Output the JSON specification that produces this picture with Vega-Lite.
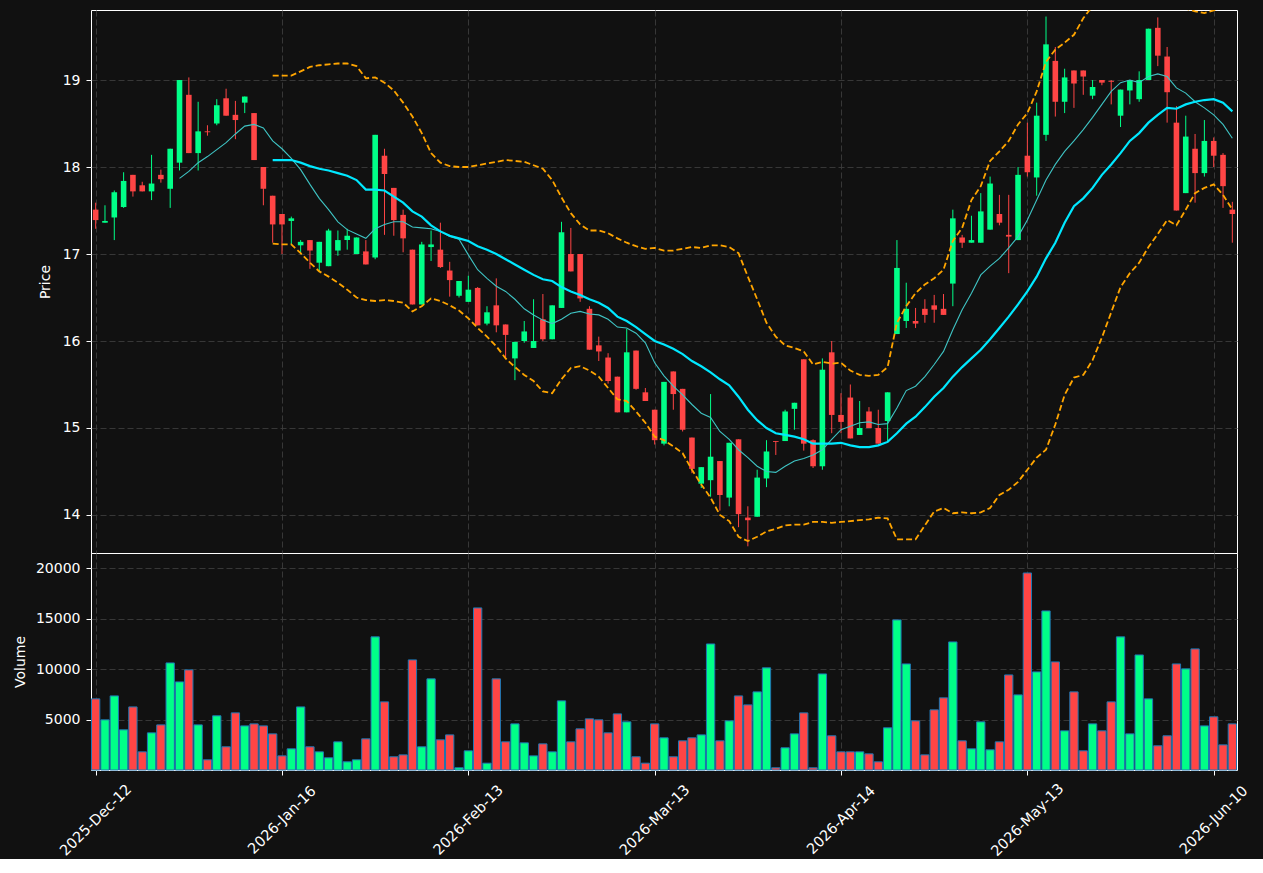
{
  "$schema": "https://vega.github.io/schema/vega-lite/v6.json",
  "background": "#111111",
  "padding": {"left": 12, "top": 9, "right": 26, "bottom": 0},
  "bounds": "flush",
  "config": {
    "font": "DejaVu Sans",
    "view": {"stroke": "#ffffff", "strokeWidth": 1},
    "axis": {
      "labelColor": "#ffffff", "titleColor": "#ffffff",
      "labelFont": "DejaVu Sans", "titleFont": "DejaVu Sans",
      "labelFontSize": 14, "titleFontSize": 14, "titleFontWeight": "normal",
      "tickColor": "#ffffff", "tickSize": 5, "tickWidth": 1, "labelPadding": 6,
      "domain": false, "grid": true,
      "gridColor": "#3c3c3c", "gridDash": [6, 3], "gridWidth": 0.9
    }
  },
  "data": {"values": [
    {"i":0,"o":17.51,"h":17.59,"l":17.29,"c":17.39,"v":7050},
    {"i":1,"o":17.36,"h":17.56,"l":17.36,"c":17.38,"v":4970},
    {"i":2,"o":17.42,"h":17.73,"l":17.16,"c":17.71,"v":7340},
    {"i":3,"o":17.54,"h":17.94,"l":17.53,"c":17.84,"v":3980},
    {"i":4,"o":17.91,"h":17.91,"l":17.66,"c":17.72,"v":6250},
    {"i":5,"o":17.79,"h":17.83,"l":17.72,"c":17.72,"v":1800},
    {"i":6,"o":17.72,"h":18.14,"l":17.62,"c":17.81,"v":3680},
    {"i":7,"o":17.91,"h":17.97,"l":17.82,"c":17.86,"v":4470},
    {"i":8,"o":17.75,"h":18.21,"l":17.53,"c":18.21,"v":10610},
    {"i":9,"o":18.05,"h":19.00,"l":17.96,"c":19.00,"v":8730,"m10":17.87},
    {"i":10,"o":18.83,"h":19.03,"l":18.16,"c":18.16,"v":9920,"m10":17.95},
    {"i":11,"o":18.16,"h":18.75,"l":17.96,"c":18.41,"v":4470,"m10":18.05},
    {"i":12,"o":18.41,"h":18.48,"l":18.36,"c":18.40,"v":1010,"m10":18.12},
    {"i":13,"o":18.50,"h":18.78,"l":18.48,"c":18.71,"v":5370,"m10":18.20},
    {"i":14,"o":18.79,"h":18.90,"l":18.59,"c":18.59,"v":2300,"m10":18.28},
    {"i":15,"o":18.60,"h":18.76,"l":18.32,"c":18.54,"v":5660,"m10":18.38},
    {"i":16,"o":18.74,"h":18.81,"l":18.62,"c":18.81,"v":4370,"m10":18.47},
    {"i":17,"o":18.62,"h":18.62,"l":18.08,"c":18.08,"v":4570,"m10":18.49},
    {"i":18,"o":18.00,"h":18.00,"l":17.56,"c":17.75,"v":4370,"m10":18.45},
    {"i":19,"o":17.67,"h":17.67,"l":17.13,"c":17.34,"v":3580,"m10":18.30,"m20":18.08,"bu":19.05,"bl":17.12},
    {"i":20,"o":17.46,"h":17.46,"l":17.00,"c":17.34,"v":1400,"m10":18.21,"m20":18.08,"bu":19.05,"bl":17.11},
    {"i":21,"o":17.38,"h":17.43,"l":17.11,"c":17.41,"v":2100,"m10":18.10,"m20":18.08,"bu":19.05,"bl":17.11},
    {"i":22,"o":17.10,"h":17.16,"l":17.00,"c":17.14,"v":6250,"m10":17.97,"m20":18.05,"bu":19.10,"bl":17.01},
    {"i":23,"o":17.16,"h":17.16,"l":16.83,"c":17.04,"v":2300,"m10":17.80,"m20":18.01,"bu":19.15,"bl":16.90},
    {"i":24,"o":16.90,"h":17.14,"l":16.80,"c":17.14,"v":1800,"m10":17.64,"m20":17.98,"bu":19.17,"bl":16.80},
    {"i":25,"o":16.86,"h":17.29,"l":16.86,"c":17.27,"v":1210,"m10":17.51,"m20":17.96,"bu":19.18,"bl":16.74},
    {"i":26,"o":17.04,"h":17.27,"l":16.98,"c":17.16,"v":2790,"m10":17.37,"m20":17.93,"bu":19.19,"bl":16.67},
    {"i":27,"o":17.16,"h":17.29,"l":17.05,"c":17.21,"v":810,"m10":17.28,"m20":17.90,"bu":19.19,"bl":16.59},
    {"i":28,"o":17.00,"h":17.19,"l":17.00,"c":17.19,"v":1010,"m10":17.23,"m20":17.85,"bu":19.16,"bl":16.50},
    {"i":29,"o":17.03,"h":17.16,"l":16.88,"c":16.88,"v":3090,"m10":17.18,"m20":17.74,"bu":19.02,"bl":16.47},
    {"i":30,"o":16.96,"h":18.37,"l":16.94,"c":18.37,"v":13190,"m10":17.29,"m20":17.74,"bu":19.03,"bl":16.46},
    {"i":31,"o":18.13,"h":18.21,"l":17.22,"c":17.92,"v":6750,"m10":17.34,"m20":17.73,"bu":18.97,"bl":16.47},
    {"i":32,"o":17.76,"h":17.76,"l":17.21,"c":17.39,"v":1310,"m10":17.37,"m20":17.66,"bu":18.88,"bl":16.46},
    {"i":33,"o":17.45,"h":17.51,"l":17.02,"c":17.18,"v":1500,"m10":17.37,"m20":17.59,"bu":18.74,"bl":16.44},
    {"i":34,"o":17.05,"h":17.05,"l":16.42,"c":16.42,"v":10910,"m10":17.31,"m20":17.49,"bu":18.58,"bl":16.34},
    {"i":35,"o":16.42,"h":17.14,"l":16.42,"c":17.11,"v":2300,"m10":17.30,"m20":17.43,"bu":18.39,"bl":16.40},
    {"i":36,"o":17.08,"h":17.27,"l":16.92,"c":17.11,"v":9030,"m10":17.29,"m20":17.33,"bu":18.16,"bl":16.49},
    {"i":37,"o":17.05,"h":17.36,"l":16.84,"c":16.85,"v":2990,"m10":17.26,"m20":17.26,"bu":18.05,"bl":16.46},
    {"i":38,"o":16.81,"h":16.91,"l":16.51,"c":16.70,"v":3480,"m10":17.20,"m20":17.21,"bu":18.01,"bl":16.41},
    {"i":39,"o":16.52,"h":16.69,"l":16.50,"c":16.69,"v":220,"m10":17.17,"m20":17.18,"bu":18.00,"bl":16.35},
    {"i":40,"o":16.45,"h":16.75,"l":16.45,"c":16.59,"v":1900,"m10":16.99,"m20":17.15,"bu":18.00,"bl":16.26},
    {"i":41,"o":16.61,"h":16.62,"l":16.18,"c":16.18,"v":16060,"m10":16.82,"m20":17.09,"bu":18.02,"bl":16.15},
    {"i":42,"o":16.20,"h":16.40,"l":16.18,"c":16.33,"v":675,"m10":16.72,"m20":17.05,"bu":18.04,"bl":16.05},
    {"i":43,"o":16.41,"h":16.72,"l":16.10,"c":16.18,"v":9030,"m10":16.63,"m20":17.00,"bu":18.06,"bl":15.94},
    {"i":44,"o":16.19,"h":16.19,"l":15.79,"c":16.07,"v":2790,"m10":16.57,"m20":16.94,"bu":18.08,"bl":15.80},
    {"i":45,"o":15.80,"h":15.99,"l":15.55,"c":15.99,"v":4570,"m10":16.48,"m20":16.88,"bu":18.07,"bl":15.70},
    {"i":46,"o":16.00,"h":16.23,"l":15.98,"c":16.11,"v":2690,"m10":16.37,"m20":16.82,"bu":18.06,"bl":15.61},
    {"i":47,"o":15.92,"h":16.48,"l":15.92,"c":16.00,"v":1400,"m10":16.30,"m20":16.76,"bu":18.02,"bl":15.54},
    {"i":48,"o":16.25,"h":16.54,"l":16.00,"c":16.02,"v":2590,"m10":16.24,"m20":16.71,"bu":17.98,"bl":15.42},
    {"i":49,"o":16.02,"h":16.41,"l":16.02,"c":16.41,"v":1800,"m10":16.20,"m20":16.69,"bu":17.85,"bl":15.40},
    {"i":50,"o":16.38,"h":17.37,"l":16.38,"c":17.25,"v":6850,"m10":16.25,"m20":16.62,"bu":17.65,"bl":15.56},
    {"i":51,"o":17.00,"h":17.30,"l":16.80,"c":16.80,"v":2790,"m10":16.32,"m20":16.57,"bu":17.47,"bl":15.69},
    {"i":52,"o":17.00,"h":17.00,"l":16.45,"c":16.49,"v":4080,"m10":16.34,"m20":16.53,"bu":17.34,"bl":15.71},
    {"i":53,"o":16.37,"h":16.40,"l":15.90,"c":15.90,"v":5070,"m10":16.31,"m20":16.48,"bu":17.27,"bl":15.66},
    {"i":54,"o":15.95,"h":16.05,"l":15.77,"c":15.88,"v":4970,"m10":16.30,"m20":16.44,"bu":17.27,"bl":15.59},
    {"i":55,"o":15.81,"h":15.86,"l":15.51,"c":15.54,"v":3680,"m10":16.25,"m20":16.38,"bu":17.24,"bl":15.46},
    {"i":56,"o":15.59,"h":15.59,"l":15.18,"c":15.18,"v":5560,"m10":16.16,"m20":16.28,"bu":17.18,"bl":15.33},
    {"i":57,"o":15.18,"h":16.14,"l":15.18,"c":15.87,"v":4770,"m10":16.15,"m20":16.23,"bu":17.13,"bl":15.31},
    {"i":58,"o":15.89,"h":15.89,"l":15.44,"c":15.45,"v":1310,"m10":16.09,"m20":16.16,"bu":17.09,"bl":15.19},
    {"i":59,"o":15.41,"h":15.46,"l":15.31,"c":15.31,"v":675,"m10":15.98,"m20":16.08,"bu":17.06,"bl":15.06},
    {"i":60,"o":15.21,"h":15.21,"l":14.81,"c":14.86,"v":4570,"m10":15.75,"m20":16.00,"bu":17.07,"bl":14.90},
    {"i":61,"o":14.82,"h":15.53,"l":14.80,"c":15.53,"v":3190,"m10":15.60,"m20":15.96,"bu":17.04,"bl":14.86},
    {"i":62,"o":15.65,"h":15.65,"l":15.21,"c":15.39,"v":1310,"m10":15.48,"m20":15.91,"bu":17.04,"bl":14.79},
    {"i":63,"o":15.45,"h":15.45,"l":14.96,"c":14.98,"v":2890,"m10":15.38,"m20":15.85,"bu":17.06,"bl":14.71},
    {"i":64,"o":14.89,"h":14.89,"l":14.48,"c":14.53,"v":3190,"m10":15.27,"m20":15.77,"bu":17.08,"bl":14.52},
    {"i":65,"o":14.36,"h":14.55,"l":14.31,"c":14.55,"v":3480,"m10":15.17,"m20":15.71,"bu":17.07,"bl":14.35},
    {"i":66,"o":14.40,"h":15.39,"l":14.21,"c":14.67,"v":12490,"m10":15.12,"m20":15.64,"bu":17.10,"bl":14.20},
    {"i":67,"o":14.62,"h":14.62,"l":14.05,"c":14.23,"v":2890,"m10":14.96,"m20":15.56,"bu":17.10,"bl":14.00},
    {"i":68,"o":14.20,"h":14.83,"l":14.10,"c":14.83,"v":4870,"m10":14.87,"m20":15.49,"bu":17.08,"bl":13.93},
    {"i":69,"o":14.87,"h":14.87,"l":13.86,"c":14.01,"v":7340,"m10":14.75,"m20":15.36,"bu":17.01,"bl":13.75},
    {"i":70,"o":13.97,"h":14.10,"l":13.64,"c":13.94,"v":6450,"m10":14.66,"m20":15.21,"bu":16.74,"bl":13.70},
    {"i":71,"o":13.98,"h":14.52,"l":13.98,"c":14.43,"v":7740,"m10":14.56,"m20":15.09,"bu":16.48,"bl":13.75},
    {"i":72,"o":14.42,"h":14.86,"l":14.32,"c":14.73,"v":10120,"m10":14.50,"m20":15.00,"bu":16.21,"bl":13.81},
    {"i":73,"o":14.85,"h":14.85,"l":14.69,"c":14.84,"v":220,"m10":14.49,"m20":14.94,"bu":16.05,"bl":13.84},
    {"i":74,"o":14.85,"h":15.21,"l":14.85,"c":15.19,"v":2200,"m10":14.56,"m20":14.92,"bu":15.95,"bl":13.88},
    {"i":75,"o":15.22,"h":15.29,"l":14.98,"c":15.29,"v":3580,"m10":14.62,"m20":14.90,"bu":15.92,"bl":13.89},
    {"i":76,"o":15.79,"h":15.79,"l":14.74,"c":14.82,"v":5660,"m10":14.65,"m20":14.87,"bu":15.88,"bl":13.89},
    {"i":77,"o":14.86,"h":14.87,"l":14.54,"c":14.56,"v":220,"m10":14.69,"m20":14.82,"bu":15.73,"bl":13.92},
    {"i":78,"o":14.56,"h":15.80,"l":14.52,"c":15.67,"v":9520,"m10":14.75,"m20":14.82,"bu":15.76,"bl":13.92},
    {"i":79,"o":15.87,"h":16.00,"l":14.94,"c":15.15,"v":3390,"m10":14.87,"m20":14.82,"bu":15.74,"bl":13.91},
    {"i":80,"o":15.15,"h":15.40,"l":14.94,"c":15.07,"v":1800,"m10":14.98,"m20":14.83,"bu":15.75,"bl":13.92},
    {"i":81,"o":15.35,"h":15.50,"l":14.88,"c":14.88,"v":1800,"m10":15.02,"m20":14.80,"bu":15.66,"bl":13.93},
    {"i":82,"o":14.92,"h":15.31,"l":14.92,"c":15.00,"v":1800,"m10":15.06,"m20":14.78,"bu":15.61,"bl":13.94},
    {"i":83,"o":15.19,"h":15.24,"l":15.00,"c":15.00,"v":1600,"m10":15.07,"m20":14.78,"bu":15.60,"bl":13.95},
    {"i":84,"o":15.00,"h":15.21,"l":14.82,"c":14.82,"v":810,"m10":15.04,"m20":14.80,"bu":15.61,"bl":13.97},
    {"i":85,"o":15.08,"h":15.41,"l":14.83,"c":15.41,"v":4180,"m10":15.05,"m20":14.84,"bu":15.70,"bl":13.96},
    {"i":86,"o":16.08,"h":17.16,"l":16.08,"c":16.84,"v":14870,"m10":15.23,"m20":14.94,"bu":16.21,"bl":13.72},
    {"i":87,"o":16.23,"h":16.67,"l":16.15,"c":16.37,"v":10510,"m10":15.43,"m20":15.05,"bu":16.40,"bl":13.72},
    {"i":88,"o":16.23,"h":16.38,"l":16.15,"c":16.20,"v":4870,"m10":15.48,"m20":15.13,"bu":16.55,"bl":13.72},
    {"i":89,"o":16.37,"h":16.48,"l":16.21,"c":16.30,"v":1500,"m10":15.59,"m20":15.24,"bu":16.65,"bl":13.88},
    {"i":90,"o":16.41,"h":16.53,"l":16.21,"c":16.36,"v":5960,"m10":15.73,"m20":15.36,"bu":16.72,"bl":14.04},
    {"i":91,"o":16.37,"h":16.54,"l":16.30,"c":16.30,"v":7150,"m10":15.88,"m20":15.46,"bu":16.82,"bl":14.08},
    {"i":92,"o":16.66,"h":17.51,"l":16.40,"c":17.41,"v":12690,"m10":16.13,"m20":15.59,"bu":17.15,"bl":14.02},
    {"i":93,"o":17.19,"h":17.22,"l":17.07,"c":17.13,"v":2890,"m10":16.36,"m20":15.70,"bu":17.30,"bl":14.03},
    {"i":94,"o":17.13,"h":17.44,"l":17.13,"c":17.16,"v":2100,"m10":16.55,"m20":15.80,"bu":17.62,"bl":14.02},
    {"i":95,"o":17.13,"h":17.70,"l":17.13,"c":17.49,"v":4770,"m10":16.76,"m20":15.90,"bu":17.78,"bl":14.03},
    {"i":96,"o":17.28,"h":17.89,"l":17.28,"c":17.81,"v":2000,"m10":16.86,"m20":16.02,"bu":18.07,"bl":14.08},
    {"i":97,"o":17.46,"h":17.68,"l":17.33,"c":17.36,"v":2790,"m10":16.95,"m20":16.15,"bu":18.18,"bl":14.23},
    {"i":98,"o":17.22,"h":17.68,"l":16.78,"c":17.20,"v":9420,"m10":17.07,"m20":16.28,"bu":18.30,"bl":14.29},
    {"i":99,"o":17.16,"h":18.00,"l":17.16,"c":17.91,"v":7440,"m10":17.20,"m20":16.42,"bu":18.49,"bl":14.38},
    {"i":100,"o":18.13,"h":18.51,"l":17.89,"c":17.94,"v":19520,"m10":17.39,"m20":16.57,"bu":18.62,"bl":14.52},
    {"i":101,"o":17.88,"h":18.74,"l":17.67,"c":18.59,"v":9720,"m10":17.62,"m20":16.74,"bu":18.87,"bl":14.66},
    {"i":102,"o":18.37,"h":19.73,"l":18.30,"c":19.41,"v":15760,"m10":17.85,"m20":16.95,"bu":19.21,"bl":14.75},
    {"i":103,"o":19.22,"h":19.38,"l":18.58,"c":18.75,"v":10710,"m10":18.03,"m20":17.13,"bu":19.35,"bl":15.04},
    {"i":104,"o":18.75,"h":19.13,"l":18.62,"c":19.03,"v":3880,"m10":18.18,"m20":17.36,"bu":19.43,"bl":15.38},
    {"i":105,"o":19.11,"h":19.11,"l":18.68,"c":18.96,"v":7740,"m10":18.30,"m20":17.55,"bu":19.52,"bl":15.58},
    {"i":106,"o":19.11,"h":19.11,"l":18.83,"c":19.04,"v":1900,"m10":18.43,"m20":17.64,"bu":19.71,"bl":15.61},
    {"i":107,"o":18.82,"h":19.00,"l":18.78,"c":18.92,"v":4570,"m10":18.57,"m20":17.76,"bu":19.85,"bl":15.78},
    {"i":108,"o":19.00,"h":19.00,"l":18.94,"c":18.97,"v":3880,"m10":18.72,"m20":17.91,"bu":19.95,"bl":16.04},
    {"i":109,"o":18.99,"h":19.00,"l":18.72,"c":18.98,"v":6750,"m10":18.87,"m20":18.03,"bu":20.05,"bl":16.33},
    {"i":110,"o":18.59,"h":18.89,"l":18.46,"c":18.89,"v":13190,"m10":18.97,"m20":18.16,"bu":20.10,"bl":16.62},
    {"i":111,"o":18.88,"h":19.00,"l":18.72,"c":19.00,"v":3580,"m10":19.00,"m20":18.30,"bu":20.12,"bl":16.78},
    {"i":112,"o":18.78,"h":19.10,"l":18.75,"c":19.00,"v":11400,"m10":18.97,"m20":18.39,"bu":20.12,"bl":16.90},
    {"i":113,"o":19.00,"h":19.59,"l":19.00,"c":19.59,"v":7050,"m10":19.04,"m20":18.51,"bu":20.10,"bl":17.08},
    {"i":114,"o":19.60,"h":19.72,"l":19.16,"c":19.28,"v":2400,"m10":19.07,"m20":18.60,"bu":20.00,"bl":17.23},
    {"i":115,"o":19.27,"h":19.38,"l":18.51,"c":18.86,"v":3390,"m10":19.04,"m20":18.68,"bu":19.90,"bl":17.39},
    {"i":116,"o":18.51,"h":18.70,"l":17.50,"c":17.50,"v":10510,"m10":18.91,"m20":18.67,"bu":19.85,"bl":17.33},
    {"i":117,"o":17.70,"h":18.59,"l":17.70,"c":18.35,"v":10020,"m10":18.85,"m20":18.72,"bu":19.82,"bl":17.51},
    {"i":118,"o":18.21,"h":18.38,"l":17.59,"c":17.93,"v":12000,"m10":18.75,"m20":18.75,"bu":19.79,"bl":17.70},
    {"i":119,"o":17.93,"h":18.54,"l":17.89,"c":18.30,"v":4370,"m10":18.68,"m20":18.77,"bu":19.77,"bl":17.76},
    {"i":120,"o":18.30,"h":18.34,"l":18.00,"c":18.13,"v":5270,"m10":18.60,"m20":18.78,"bu":19.80,"bl":17.80},
    {"i":121,"o":18.14,"h":18.16,"l":17.53,"c":17.78,"v":2490,"m10":18.49,"m20":18.74,"bu":19.83,"bl":17.68},
    {"i":122,"o":17.51,"h":17.60,"l":17.13,"c":17.46,"v":4570,"m10":18.33,"m20":18.64,"bu":19.85,"bl":17.51}
  ]},
  "spacing": 0,
  "vconcat": [
    {
      "width": 1146,
      "height": 543,
      "encoding": {
        "x": {"field": "i", "type": "quantitative",
              "scale": {"domain": [-0.5, 122.5], "nice": false, "zero": false, "padding": 0},
              "axis": {"values": [0, 20, 40, 60, 80, 100, 120], "labels": false, "ticks": false, "title": null,
                       "minExtent": 0, "maxExtent": 0, "offset": 0, "labelPadding": 0}}
      },
      "layer": [
        {
          "mark": {"type": "rule", "strokeWidth": 1},
          "encoding": {
            "y": {"field": "l", "type": "quantitative",
                  "scale": {"domain": [13.563, 19.805], "nice": false, "zero": false, "padding": 0},
                  "axis": {"values": [14, 15, 16, 17, 18, 19], "format": "d", "title": "Price", "titlePadding": 10}},
            "y2": {"field": "h"},
            "color": {"condition": {"test": "datum.c >= datum.o", "value": "#00ff88"}, "value": "#ff4545"}
          }
        },
        {
          "mark": {"type": "bar", "size": 5.6},
          "encoding": {
            "y": {"field": "o", "type": "quantitative", "axis": {"title": "Price"}},
            "y2": {"field": "c"},
            "color": {"condition": {"test": "datum.c >= datum.o", "value": "#00ff88"}, "value": "#ff4545"}
          }
        },
        {
          "mark": {"type": "line", "color": "#3fc4c4", "strokeWidth": 1.1, "clip": true},
          "encoding": {"y": {"field": "m10", "type": "quantitative", "axis": {"title": "Price"}}}
        },
        {
          "mark": {"type": "line", "color": "#00e8ff", "strokeWidth": 2.2, "clip": true},
          "encoding": {"y": {"field": "m20", "type": "quantitative", "axis": {"title": "Price"}}}
        },
        {
          "mark": {"type": "line", "color": "#ffa500", "strokeWidth": 1.8, "strokeDash": [6, 3], "clip": true},
          "encoding": {"y": {"field": "bu", "type": "quantitative", "axis": {"title": "Price"}}}
        },
        {
          "mark": {"type": "line", "color": "#ffa500", "strokeWidth": 1.8, "strokeDash": [6, 3], "clip": true},
          "encoding": {"y": {"field": "bl", "type": "quantitative", "axis": {"title": "Price"}}}
        }
      ]
    },
    {
      "width": 1146,
      "height": 217,
      "mark": {"type": "bar", "size": 8.3, "stroke": "#1f77b4", "strokeWidth": 1},
      "encoding": {
        "x": {"field": "i", "type": "quantitative",
              "scale": {"domain": [-0.5, 122.5], "nice": false, "zero": false, "padding": 0},
              "axis": {"values": [0, 20, 40, 60, 80, 100, 120], "title": null, "labelFontSize": 14.5,
                       "labelAngle": -45, "labelAlign": "center", "labelBaseline": "middle", "labelPadding": 45,
                       "labelExpr": "datum.value == 0 ? '2025-Dec-12' : datum.value == 20 ? '2026-Jan-16' : datum.value == 40 ? '2026-Feb-13' : datum.value == 60 ? '2026-Mar-13' : datum.value == 80 ? '2026-Apr-14' : datum.value == 100 ? '2026-May-13' : '2026-Jun-10'"}},
        "y": {"field": "v", "type": "quantitative",
              "scale": {"domain": [0, 21500], "nice": false, "zero": false, "padding": 0},
              "axis": {"values": [5000, 10000, 15000, 20000], "title": "Volume", "titlePadding": 8, "format": "d"}},
        "color": {"condition": {"test": "datum.c >= datum.o", "value": "#00ff88"}, "value": "#ff4545"}
      }
    }
  ]
}
